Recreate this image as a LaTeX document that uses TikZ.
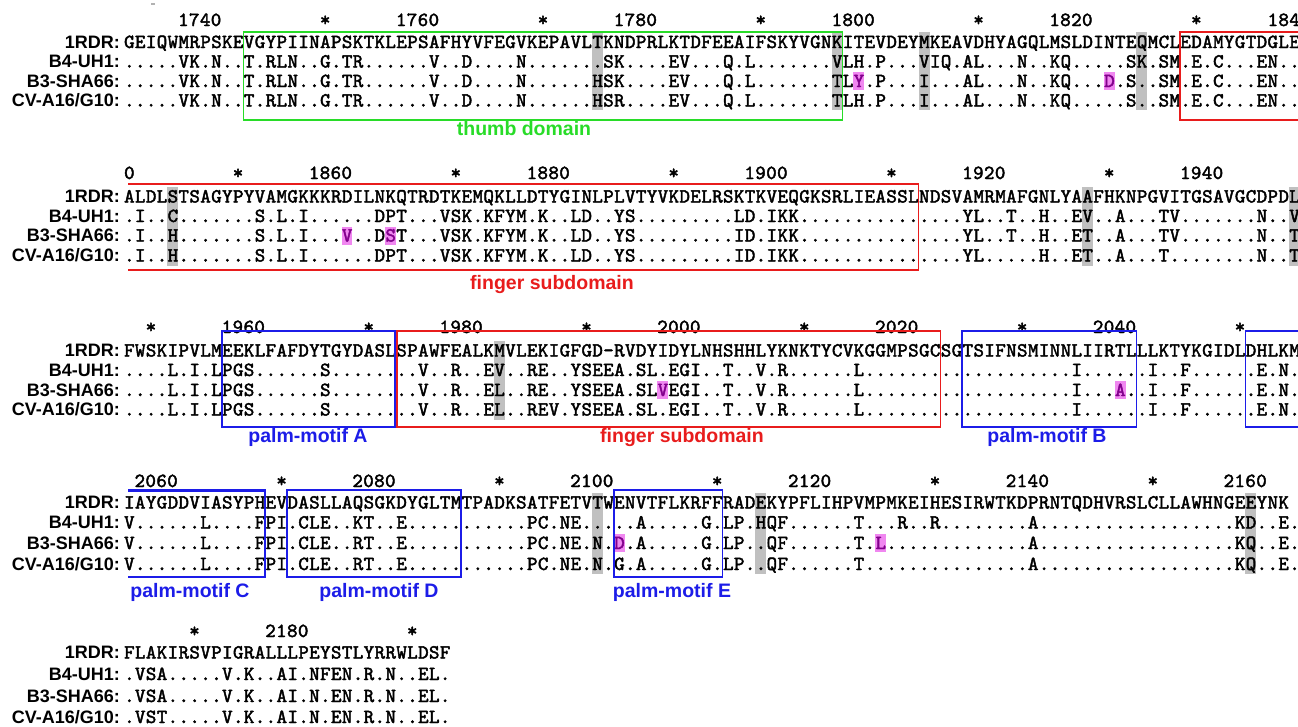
\documentclass[tikz,border=0pt]{standalone}
\usepackage{fontspec}
\newfontfamily\labf{Liberation Sans}
\newfontfamily\seqf{lmmono10-regular.otf}[FakeBold=2.2]
\definecolor{gboxc}{RGB}{40,220,40}
\definecolor{rboxc}{RGB}{232,28,28}
\definecolor{bboxc}{RGB}{28,28,232}
\definecolor{hgray}{RGB}{192,192,192}
\definecolor{hmag}{RGB}{240,135,240}
\definecolor{mtext}{RGB}{130,0,140}
\newlength\pw
\setlength\pw{10.89pt}
\def\xo{123.7}
\def\pp{10.89}
\def\cc#1{\hbox to\pw{\hss#1\hss}}
\def\sqloop#1{\ifx\relax#1\else\cc{#1}\expandafter\sqloop\fi}
\newcommand\sq[1]{\hbox{\sqloop#1\relax}}
\newcommand\M{\color{mtext}}
\newcommand\seqfont{\seqf\fontsize{20}{20}\selectfont}
\newcommand\namefont{\labf\bfseries\fontsize{18}{18}\selectfont}
\newcommand\domfont{\labf\bfseries\fontsize{19.5}{19.5}\selectfont}
\newcommand\rnum[4]{\node[rul,anchor=base east] (#1) at ({\xo+(#3+1)*\pp},#2) {\sq{#4}};}
\newcommand\rstar[3]{\node[rul,anchor=base] (#1) at ({\xo+(#3+0.5)*\pp},#2) {\cc{*}};}
\newcommand\gc[3]{\fill[hgray] ({\xo+#1*\pp},#2) rectangle ({\xo+(#1+1)*\pp},#3);}
\newcommand\mc[2]{\fill[hmag] ({\xo+#1*\pp},{#2-9}) rectangle ({\xo+(#1+1)*\pp},{#2+9});}
\begin{document}
\begin{tikzpicture}[x=1pt,y=-1pt,
  seq/.style={inner sep=0pt,anchor=base west,yshift=-6pt,font=\seqfont},
  rul/.style={inner sep=0pt,yshift=-6pt,font=\seqfont},
  nm/.style={inner sep=0pt,anchor=base east,yshift=-6.4pt,font=\namefont},
  dom/.style={inner sep=0pt,font=\domfont},
  gbx/.style={draw=gboxc,line width=1.6pt},
  rbx/.style={draw=rboxc,line width=1.6pt},
  bbx/.style={draw=bboxc,line width=1.6pt}]
\fill[white] (0,0) rectangle (1298,726);
\useasboundingbox (0,0) rectangle (1298,726);
\fill[gray!60] (151,3) rectangle (155,5);

% ================= block 1
\gc{43}{32}{110}\gc{65}{32}{110}\gc{73}{32}{110}\gc{93}{32}{110}
\mc{67}{81}\mc{90}{81}
\rnum{r1a}{20}{8}{1740}\rstar{r1b}{20}{18}\rnum{r1c}{20}{28}{1760}\rstar{r1d}{20}{38}
\rnum{r1e}{20}{48}{1780}\rstar{r1f}{20}{58}\rnum{r1g}{20}{68}{1800}\rstar{r1h}{20}{78}
\rnum{r1i}{20}{88}{1820}\rstar{r1j}{20}{98}\node[rul,anchor=base west] (r1k) at ({\xo+105*\pp},20) {\sq{184}};
\node[nm] (n1a) at (120,42) {1RDR:};
\node[nm] (n1b) at (120,61.5) {B4-UH1:};
\node[nm] (n1c) at (120,81) {B3-SHA66:};
\node[nm] (n1d) at (120,100.5) {CV-A16/G10:};
\node[seq] (s1a) at (\xo,42) {\sq{GEIQWMRPSKEVGYPIINAPSKTKLEPSAFHYVFEGVKEPAVLTKNDPRLKTDFEEAIFSKYVGNKITEVDEYMKEAVDHYAGQLMSLDINTEQMCLEDAMYGTDGLE}};
\node[seq] (s1b) at (\xo,61.5) {\sq{.....VK.N..T.RLN..G.TR......V..D....N.......SK ....EV...Q.L.......VLH.P...VIQ.AL...N..KQ.....SK.SM.E.C...EN..}};
\node[seq] (s1c) at (\xo,81) {\sq{.....VK.N..T.RLN..G.TR......V..D....N......HSK ....EV...Q.L.......TL{\M Y}.P...I...AL...N..KQ...{\M D}.S..SM.E.C...EN..}};
\node[seq] (s1d) at (\xo,100.5) {\sq{.....VK.N..T.RLN..G.TR......V..D....N......HSR ....EV...Q.L.......TLH.P...I...AL...N..KQ.....S..SM.E.C...EN..}};
\draw[gbx] ({\xo+11*\pp},32) rectangle ({\xo+66*\pp},120);
\draw[rbx] (1300,32) -- ({\xo+97*\pp},32) -- ({\xo+97*\pp},120) -- (1300,120);
\node[dom,text=gboxc] (d1) at (524,129) {thumb domain};

% ================= block 2
\gc{4}{186.5}{265.5}\gc{88}{186.5}{265.5}\gc{107}{186.5}{265.5}
\mc{20}{235.5}\mc{24}{235.5}
\node[rul,anchor=base west] (r2a) at (\xo,173) {\sq{0}};
\rstar{r2b}{173}{10}\rnum{r2c}{173}{20}{1860}\rstar{r2d}{173}{30}\rnum{r2e}{173}{40}{1880}
\rstar{r2f}{173}{50}\rnum{r2g}{173}{60}{1900}\rstar{r2h}{173}{70}\rnum{r2i}{173}{80}{1920}
\rstar{r2j}{173}{90}\rnum{r2k}{173}{100}{1940}
\node[nm] (n2a) at (120,196.5) {1RDR:};
\node[nm] (n2b) at (120,216) {B4-UH1:};
\node[nm] (n2c) at (120,235.5) {B3-SHA66:};
\node[nm] (n2d) at (120,255.5) {CV-A16/G10:};
\node[seq] (s2a) at (\xo,196.5) {\sq{ALDLSTSAGYPYVAMGKKKRDILNKQTRDTKEMQKLLDTYGINLPLVTYVKDELRSKTKVEQGKSRLIEASSLNDSVAMRMAFGNLYAAFHKNPGVITGSAVGCDPDL}};
\node[seq] (s2b) at (\xo,216) {\sq{.I..C.......S.L.I......DPT...VSK.KFYM.K..LD..YS .........LD.IKK...............YL..T..H..EV..A...TV.......N..V}};
\node[seq] (s2c) at (\xo,235.5) {\sq{.I..H.......S.L.I...{\M V}..D{\M S}T...VSK.KFYM.K..LD..YS .........ID.IKK...............YL..T..H..ET..A...TV.......N..T}};
\node[seq] (s2d) at (\xo,255.5) {\sq{.I..H.......S.L.I......DPT...VSK.KFYM.K..LD..YS .........ID.IKK...............YL.....H..ET..A...T........N..T}};
\draw[rbx] (128,184) -- ({\xo+73*\pp},184) -- ({\xo+73*\pp},270) -- (128,270);
\node[dom,text=rboxc] (d2) at (552,284) {finger subdomain};

% ================= block 3
\gc{34}{340.5}{419.5}
\mc{49}{390}\mc{91}{390}
\rstar{r3a}{327}{2}\rnum{r3b}{327}{12}{1960}\rstar{r3c}{327}{22}\rnum{r3d}{327}{32}{1980}
\rstar{r3e}{327}{42}\rnum{r3f}{327}{52}{2000}\rstar{r3g}{327}{62}\rnum{r3h}{327}{72}{2020}
\rstar{r3i}{327}{82}\rnum{r3j}{327}{92}{2040}\rstar{r3k}{327}{102}
\node[nm] (n3a) at (120,350.5) {1RDR:};
\node[nm] (n3b) at (120,370) {B4-UH1:};
\node[nm] (n3c) at (120,390) {B3-SHA66:};
\node[nm] (n3d) at (120,409.5) {CV-A16/G10:};
\node[seq] (s3a) at (\xo,350.5) {\sq{FWSKIPVLMEEKLFAFDYTGYDASLSPAWFEALKMVLEKIGFGD-RVDYIDYLNHSHHLYKNKTYCVKGGMPSGCSGTSIFNSMINNLIIRTLLLKTYKGIDLDHLKM}};
\node[seq] (s3b) at (\xo,370) {\sq{....L.I.LPGS......S...... ..V..R..EV..RE..YSEEA.SL.EGI. .T..V.R......L....... .. ..........I..... .I..F..... .E.N.}};
\node[seq] (s3c) at (\xo,390) {\sq{....L.I.LPGS......S...... ..V..R..EL..RE..YSEEA.SL{\M V}EGI. .T..V.R......L....... .. ..........I...{\M A}. .I..F..... .E.N.}};
\node[seq] (s3d) at (\xo,409.5) {\sq{....L.I.LPGS......S...... ..V..R..EL..REV.YSEEA.SL.EGI. .T..V.R......L....... .. ..........I..... .I..F..... .E.N.}};
\draw[bbx] ({\xo+9*\pp},331) rectangle ({\xo+25*\pp-1},427);
\draw[rbx] ({\xo+25*\pp+1},331) rectangle ({\xo+75*\pp},427);
\draw[bbx] ({\xo+77*\pp},331) rectangle ({\xo+93*\pp},427);
\draw[bbx] (1300,331) -- ({\xo+103*\pp},331) -- ({\xo+103*\pp},427) -- (1300,427);
\node[dom,text=bboxc] (d3a) at (308,437) {palm-motif A};
\node[dom,text=rboxc] (d3b) at (682,437) {finger subdomain};
\node[dom,text=bboxc] (d3c) at (1047,437) {palm-motif B};

% ================= block 4
\gc{43}{492.5}{574}\gc{58}{492.5}{574}\gc{103}{492.5}{574}
\mc{45}{543}\mc{69}{543}
\rnum{r4a}{481}{4}{2060}\rstar{r4b}{481}{14}\rnum{r4c}{481}{24}{2080}\rstar{r4d}{481}{34}
\rnum{r4e}{481}{44}{2100}\rstar{r4f}{481}{54}\rnum{r4g}{481}{64}{2120}\rstar{r4h}{481}{74}
\rnum{r4i}{481}{84}{2140}\rstar{r4j}{481}{94}\rnum{r4k}{481}{104}{2160}
\node[nm] (n4a) at (120,502.5) {1RDR:};
\node[nm] (n4b) at (120,522.5) {B4-UH1:};
\node[nm] (n4c) at (120,543) {B3-SHA66:};
\node[nm] (n4d) at (120,564) {CV-A16/G10:};
\node[seq] (s4a) at (\xo,502.5) {\sq{IAYGDDVIASYPHEVDASLLAQSGKDYGLTMTPADKSATFETVTWENVTFLKRFFRADEKYPFLIHPVMPMKEIHESIRWTKDPRNTQDHVRSLCLLAWHNGEEYNK}};
\node[seq] (s4b) at (\xo,522.5) {\sq{V......L....FPI .CLE..KT..E..... ......PC.NE... ..A.....G. LP.HQF.... ..T...R..R ........A. .......... ....... KD..E.}};
\node[seq] (s4c) at (\xo,543) {\sq{V......L....FPI .CLE..RT..E..... ......PC.NE.N. {\M D}.A.....G. LP..QF.... ..T.{\M L}..... ........A. .......... ....... KQ..E.}};
\node[seq] (s4d) at (\xo,564) {\sq{V......L....FPI .CLE..RT..E..... ......PC.NE.N. G.A.....G. LP..QF.... ..T....... ........A. .......... ....... KQ..E.}};
\draw[bbx] (128,577) -- ({\xo+13*\pp},577) -- ({\xo+13*\pp},490);
\draw[draw=bboxc,line width=3pt] (128,490) -- ({\xo+13*\pp+0.8},490);
\draw[bbx] ({\xo+15*\pp},490) rectangle ({\xo+31*\pp},577);
\draw[bbx] ({\xo+45*\pp},490) rectangle ({\xo+55*\pp},577);
\node[dom,text=bboxc] (d4a) at (190,592) {palm-motif C};
\node[dom,text=bboxc] (d4b) at (379,592) {palm-motif D};
\node[dom,text=bboxc] (d4c) at (672,592) {palm-motif E};

% ================= block 5
\rstar{r5a}{631}{6}\rnum{r5b}{631}{16}{2180}\rstar{r5c}{631}{26}
\node[nm] (n5a) at (120,652.5) {1RDR:};
\node[nm] (n5b) at (120,674) {B4-UH1:};
\node[nm] (n5c) at (120,696) {B3-SHA66:};
\node[nm] (n5d) at (120,717) {CV-A16/G10:};
\node[seq] (s5a) at (\xo,652.5) {\sq{FLAKIRSVPIGRALLLPEYSTLYRRWLDSF}};
\node[seq] (s5b) at (\xo,674) {\sq{.VSA.....V.K..AI.NFEN.R.N..EL.}};
\node[seq] (s5c) at (\xo,696) {\sq{.VSA.....V.K..AI.N.EN.R.N..EL.}};
\node[seq] (s5d) at (\xo,717) {\sq{.VST.....V.K..AI.N.EN.R.N..EL.}};
\end{tikzpicture}
\end{document}
